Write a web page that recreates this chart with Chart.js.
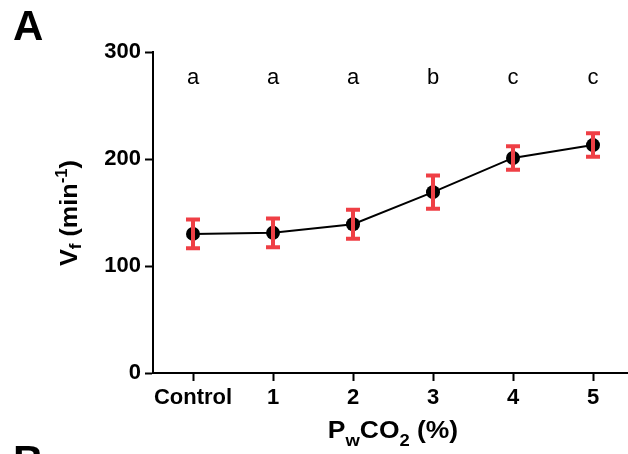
<!DOCTYPE html>
<html lang="en">
<head>
  <meta charset="UTF-8">
  <title>Vf vs PwCO2</title>
  <script src="https://cdn.jsdelivr.net/npm/chart.js"></script>
  <style>
    html, body { margin: 0; padding: 0; background: #fff; }
    #wrap { width: 628px; height: 454px; overflow: hidden; }
  </style>
</head>
<body>
  <div id="wrap"><canvas id="vfChart" width="628" height="454"></canvas></div>

  <script>
    // data
    const categories = ['Control', '1', '2', '3', '4', '5'];
    const vfMean = [130, 131, 139, 169, 201, 213];
    const vfErr = [13.5, 13.5, 13.5, 15.5, 11, 11];
    const sigLetters = ['a', 'a', 'a', 'b', 'c', 'c'];
    const yTicks = [0, 100, 200, 300];

    const FONT = '"Liberation Sans", Arial, Helvetica, sans-serif';
    const RED = '#ef3f45';

    // draw a row of text pieces (sub/superscripts), centred at 0,0
    function richText(ctx, parts) {
      let total = 0;
      parts.forEach(p => {
        ctx.font = 'bold ' + p.size + 'px ' + FONT;
        p.w = ctx.measureText(p.t).width;
        total += p.w;
      });
      let x = -total / 2;
      parts.forEach(p => {
        ctx.font = 'bold ' + p.size + 'px ' + FONT;
        ctx.fillText(p.t, x, p.dy || 0);
        x += p.w;
      });
    }

    const extras = {
      id: 'extras',
      afterDatasetsDraw(chart) {
        const ctx = chart.ctx;
        const xs = chart.scales.x, ys = chart.scales.y;
        ctx.save();
        // error bars
        ctx.strokeStyle = RED;
        ctx.lineWidth = 4;
        vfMean.forEach((m, i) => {
          const px = xs.getPixelForValue(i);
          const top = ys.getPixelForValue(m + vfErr[i]);
          const bot = ys.getPixelForValue(m - vfErr[i]);
          ctx.beginPath();
          ctx.moveTo(px, top); ctx.lineTo(px, bot);
          ctx.moveTo(px - 7, top); ctx.lineTo(px + 7, top);
          ctx.moveTo(px - 7, bot); ctx.lineTo(px + 7, bot);
          ctx.stroke();
        });
        // significance letters
        ctx.fillStyle = '#000';
        ctx.font = '22px ' + FONT;
        ctx.textAlign = 'center';
        ctx.textBaseline = 'middle';
        sigLetters.forEach((l, i) => {
          ctx.fillText(l, xs.getPixelForValue(i), ys.getPixelForValue(276));
        });
        // axis titles
        ctx.textAlign = 'left';
        ctx.textBaseline = 'alphabetic';
        ctx.save();
        ctx.translate(77, 213);
        ctx.rotate(-Math.PI / 2);
        ctx.scale(1.05, 1);
        richText(ctx, [
          { t: 'V', size: 24 },
          { t: 'f', size: 16, dy: 4 },
          { t: ' (min', size: 24 },
          { t: '-1', size: 16, dy: -10 },
          { t: ')', size: 24 }
        ]);
        ctx.restore();
        ctx.save();
        ctx.translate(393, 438);
        ctx.scale(1.15, 1);
        richText(ctx, [
          { t: 'P', size: 23 },
          { t: 'w', size: 16, dy: 8 },
          { t: 'CO', size: 23 },
          { t: '2', size: 16, dy: 8 },
          { t: ' (%)', size: 23 }
        ]);
        ctx.restore();
        // panel letters
        ctx.font = 'bold 42px ' + FONT;
        ctx.fillText('A', 13, 40);
        ctx.fillText('B', 13, 475);
        ctx.restore();
      }
    };

    new Chart(document.getElementById('vfChart'), {
      type: 'line',
      data: {
        datasets: [{
          data: vfMean.map((v, i) => ({ x: i, y: v })),
          borderColor: '#000',
          borderWidth: 2,
          backgroundColor: '#000',
          pointRadius: 7,
          pointBorderWidth: 0,
          tension: 0
        }]
      },
      options: {
        responsive: false,
        animation: false,
        layout: { autoPadding: false, padding: { top: 52, left: 0, right: 0, bottom: 0 } },
        plugins: { legend: { display: false }, tooltip: { enabled: false } },
        scales: {
          x: {
            type: 'linear',
            min: -0.5,
            max: 5.4375,
            afterBuildTicks: s => { s.ticks = categories.map((c, i) => ({ value: i })); },
            afterFit: s => { s.height = 81; },
            grid: { display: true, drawOnChartArea: false, drawTicks: true, tickLength: 8, tickWidth: 2, color: '#000' },
            border: { display: true, color: '#000', width: 2 },
            ticks: {
              autoSkip: false,
              maxRotation: 0,
              padding: 4,
              color: '#000',
              font: { family: FONT, size: 22, weight: 'bold' },
              callback: v => categories[v]
            }
          },
          y: {
            min: 0,
            max: 300,
            afterBuildTicks: s => { s.ticks = yTicks.map(v => ({ value: v })); },
            afterFit: s => { s.width = 153; },
            grid: { display: true, drawOnChartArea: false, drawTicks: true, tickLength: 8, tickWidth: 2, color: '#000' },
            border: { display: true, color: '#000', width: 2 },
            ticks: {
              padding: 4,
              color: '#000',
              font: { family: FONT, size: 22, weight: 'bold' }
            }
          }
        }
      },
      plugins: [extras]
    });
  </script>
</body>
</html>
